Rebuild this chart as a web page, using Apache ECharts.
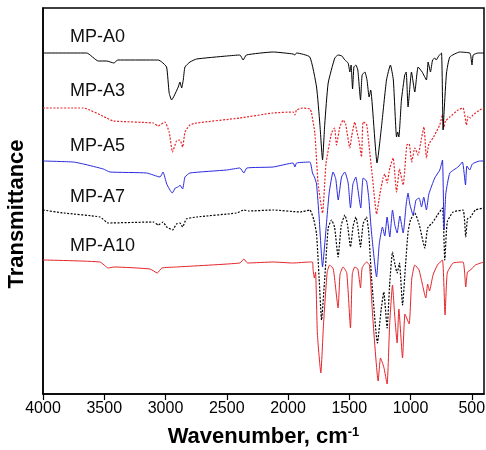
<!DOCTYPE html>
<html>
<head>
<meta charset="utf-8">
<script src="https://cdn.jsdelivr.net/npm/echarts@6/dist/echarts.min.js"></script>
<style>html,body{margin:0;padding:0;background:#fff}#c{width:486px;height:450px}</style>
</head>
<body>
<div id="c"></div>
<script>
// Wavenumber tick labels (cm-1)
const tickValues = [4000, 3500, 3000, 2500, 2000, 1500, 1000, 500];
const seriesNames = ['MP-A0', 'MP-A3', 'MP-A5', 'MP-A7', 'MP-A10'];
// Each spectrum: [wavenumber, transmittance (a.u., stacked offset)]
const specA0 = [[4000,341],[3643,341],[3549,333],[3480,333],[3421,331],[3390,334],[3100,334],[3059,334],[3030,332],[2991,327],[2970,301],[2950,294],[2930,298],[2896,307],[2882,312],[2868,306],[2855,314],[2841,327],[2800,332],[2746,335],[2500,338],[2393,339],[2366,334],[2340,339],[2121,342],[1958,340],[1944,339],[1930,341],[1822,337],[1767,307],[1740,270],[1718,234],[1700,270],[1672,311],[1618,336],[1590,339],[1560,338],[1536,334],[1509,331],[1495,322],[1485,329],[1473,305],[1462,327],[1446,329],[1430,324],[1408,294],[1395,319],[1373,322],[1355,314],[1338,297],[1325,304],[1273,231],[1237,267],[1196,314],[1164,329],[1140,314],[1114,257],[1105,262],[1095,257],[1074,294],[1047,319],[1035,322],[1020,287],[992,322],[965,302],[938,327],[905,322],[870,314],[856,332],[837,322],[820,334],[802,336],[790,334],[770,338],[747,341],[734,264],[725,284],[706,321],[679,337],[598,342],[516,341],[508,338],[498,329],[488,339],[450,341],[400,341]];
const specA3 = [[4000,286],[3671,286],[3480,276],[3426,273],[3100,271],[3059,268],[3005,272],[2970,262],[2943,242],[2910,253],[2882,254],[2860,247],[2841,262],[2801,269],[2746,271],[2393,276],[2121,281],[1958,282],[1944,279],[1930,284],[1880,286],[1820,285],[1808,281],[1781,261],[1754,210],[1718,181],[1690,230],[1645,261],[1620,266],[1604,249],[1577,267],[1550,274],[1530,270],[1495,246],[1480,258],[1455,272],[1440,264],[1419,252],[1400,237],[1387,272],[1359,270],[1340,250],[1310,216],[1277,180],[1250,200],[1224,216],[1210,220],[1191,211],[1169,226],[1142,236],[1114,202],[1090,225],[1060,209],[1030,249],[1011,250],[990,232],[965,246],[938,239],[910,256],[890,267],[870,236],[850,250],[816,256],[790,262],[761,269],[739,279],[729,266],[715,273],[679,277],[612,284],[571,286],[543,269],[530,278],[510,276],[490,279],[435,284],[400,286]];
const specA5 = [[4000,233],[3753,232],[3670,230],[3508,225],[3453,222],[3154,221],[3045,217],[3020,222],[2990,210],[2945,201],[2920,206],[2896,207],[2882,209],[2860,205],[2841,217],[2801,221],[2500,224],[2393,226],[2360,221],[2336,226],[2121,227],[1958,231],[1944,227],[1930,231],[1822,232],[1800,221],[1781,216],[1767,210],[1746,177],[1718,127],[1700,150],[1664,201],[1632,222],[1610,215],[1590,194],[1563,217],[1536,222],[1509,211],[1490,186],[1470,210],[1446,217],[1430,205],[1406,186],[1387,216],[1359,213],[1340,195],[1318,161],[1277,117],[1255,150],[1229,167],[1210,158],[1191,177],[1169,157],[1147,184],[1128,169],[1109,161],[1087,178],[1060,161],[1035,190],[1020,201],[1006,190],[979,179],[955,194],[930,196],[910,187],[892,197],[870,184],[850,200],[802,216],[761,224],[739,234],[726,164],[712,200],[679,221],[612,227],[576,232],[551,209],[540,228],[516,224],[495,230],[435,233],[400,233]];
const specA7 = [[4000,184],[3830,181],[3535,177],[3467,171],[3100,172],[3059,169],[3020,172],[2990,167],[2943,164],[2910,170],[2882,171],[2860,167],[2830,175],[2746,177],[2420,181],[2360,184],[2320,183],[2121,184],[1900,182],[1822,184],[1789,174],[1767,160],[1746,116],[1726,74],[1700,116],[1672,166],[1645,174],[1620,167],[1591,137],[1565,169],[1536,179],[1515,170],[1490,147],[1468,168],[1446,177],[1430,167],[1408,147],[1387,170],[1359,177],[1340,160],[1318,116],[1270,51],[1240,84],[1218,102],[1191,66],[1170,110],[1147,142],[1128,130],[1109,121],[1090,131],[1065,89],[1040,130],[1020,162],[1000,174],[965,181],[930,170],[883,146],[860,166],[816,172],[780,179],[739,186],[720,134],[700,172],[652,182],[571,184],[549,157],[535,175],[510,177],[470,184],[400,186]];
const specA10 = [[4000,134],[3535,132],[3467,126],[3420,127],[3127,125],[3067,121],[3030,126],[2909,127],[2393,131],[2360,135],[2330,131],[2121,132],[1960,131],[1822,132],[1800,132],[1795,124],[1785,116],[1775,122],[1760,60],[1732,21],[1710,70],[1680,122],[1660,129],[1630,125],[1591,86],[1575,120],[1550,127],[1520,121],[1490,66],[1475,120],[1455,127],[1430,125],[1408,106],[1395,126],[1359,132],[1335,129],[1310,80],[1264,13],[1245,36],[1218,27],[1191,10],[1170,70],[1147,109],[1130,80],[1109,51],[1095,85],[1065,36],[1045,80],[1011,70],[990,115],[965,129],[930,124],[875,96],[860,110],[845,103],[816,119],[780,129],[739,134],[718,79],[700,121],[652,131],[571,132],[549,107],[535,122],[510,124],[470,129],[400,132]];

const spectra = [specA0, specA3, specA5, specA7, specA10];
const colors = ['#000000', '#e5252a', '#2a2ae0', '#000000', '#e5252a'];
const dashes = ['solid', [2, 1.5], 'solid', [2, 1.5], 'solid'];
const widths = [1, 1.2, 1, 1.2, 1];
const labelY = [38, 92, 147, 198, 247];

const chart = echarts.init(document.getElementById('c'), null, {renderer: 'canvas'});
const FONT = 'Liberation Sans, Arial, Helvetica, sans-serif';
chart.setOption({
  animation: false,
  backgroundColor: '#fff',
  grid: {left: 43, top: 8, width: 441, height: 386, containLabel: false, outerBoundsMode: 'none',
    show: true, borderColor: '#000', borderWidth: 1.5, backgroundColor: 'transparent'},
  xAxis: {
    type: 'value', min: 400, max: 4000, inverse: true,
    axisLine: {lineStyle: {color: '#000', width: 1.5}},
    axisTick: {customValues: tickValues, length: 6, lineStyle: {color: '#000', width: 1.2}},
    axisLabel: {customValues: tickValues, fontSize: 16, color: '#000', fontFamily: FONT, margin: 7,
      formatter: v => String(v)},
    splitLine: {show: false},
    name: 'Wavenumber, cm{sup|-1}',
    nameLocation: 'middle', nameGap: 32,
    nameTextStyle: {fontSize: 22, fontWeight: 'bold', color: '#000', fontFamily: FONT,
      rich: {sup: {fontSize: 13, fontWeight: 'bold', verticalAlign: 'top', color: '#000', fontFamily: FONT}}}
  },
  yAxis: {
    type: 'value', min: 0, max: 386,
    axisLine: {show: true, lineStyle: {color: '#000', width: 1.5}},
    axisTick: {show: false}, axisLabel: {show: false}, splitLine: {show: false}
  },
  graphic: seriesNames.map((n, i) => ({
    type: 'text', left: 70, top: labelY[i] - 10,
    style: {text: n, fontSize: 18, fill: '#111', fontFamily: FONT}
  })).concat([{
    type: 'text', x: 16.5, y: 214, rotation: Math.PI / 2,
    style: {text: 'Transmittance', fontSize: 22, fontWeight: 'bold', fill: '#000', fontFamily: FONT,
      align: 'center', verticalAlign: 'middle'}
  }]),
  series: spectra.map((d, i) => ({
    name: seriesNames[i], type: 'line', data: d, showSymbol: false, symbol: 'none',
    smooth: 0.15,
    lineStyle: {color: colors[i], width: widths[i], type: dashes[i]},
    z: 5 - i
  }))
});
</script>
</body>
</html>
